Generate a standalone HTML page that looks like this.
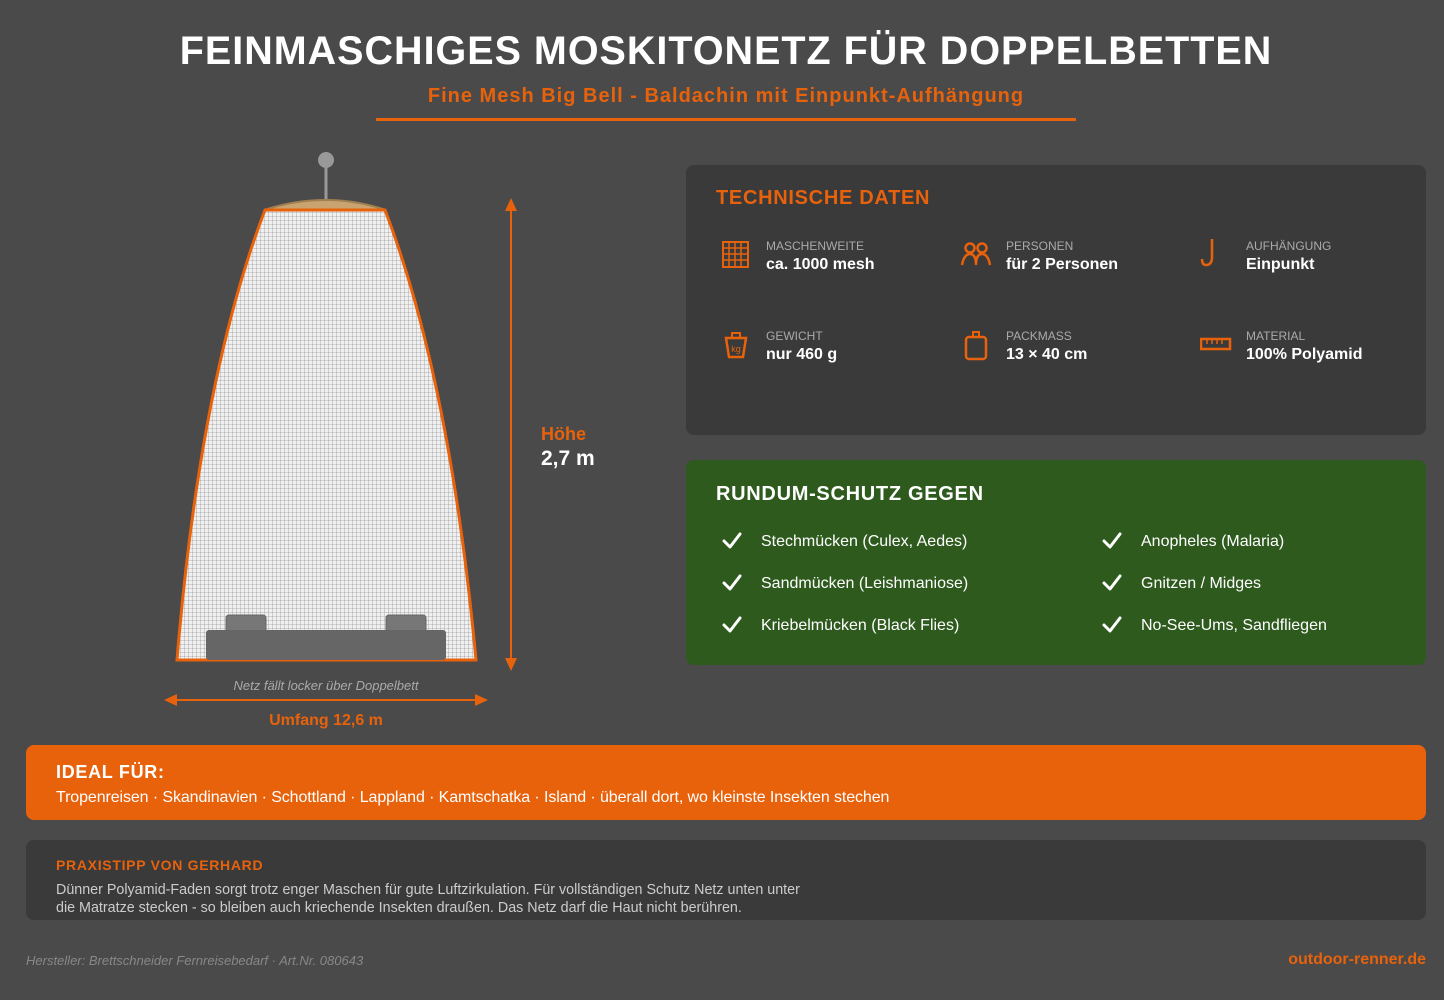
<!DOCTYPE html>
<html><head><meta charset="utf-8"><style>
*{margin:0;padding:0;box-sizing:border-box}
body{width:1444px;height:1000px;background:#4a4a4a;font-family:"Liberation Sans",sans-serif;position:relative;overflow:hidden;color:#fff}
.a{position:absolute}
.lab{font-size:12px;color:#aaa}
.val{font-size:16px;font-weight:bold;color:#fff;margin-top:3px}
.it{position:absolute;font-size:16px;color:#fff}
</style></head><body>
<div class="a" style="left:0;width:1452px;top:29px;text-align:center;font-size:39.5px;font-weight:bold;letter-spacing:1px">FEINMASCHIGES MOSKITONETZ FÜR DOPPELBETTEN</div>
<div class="a" style="left:0;width:1452px;top:85px;text-align:center;font-size:20px;font-weight:bold;color:#e8620c;letter-spacing:1px">Fine Mesh Big Bell - Baldachin mit Einpunkt-Aufhängung</div>
<div class="a" style="left:376px;top:118px;width:700px;height:3px;background:#e8620c"></div>

<svg class="a" style="left:0;top:0" width="680" height="740">
<defs><pattern id="m" width="4" height="4" patternUnits="userSpaceOnUse"><rect width="4" height="4" fill="#f0f0f0"/><path d="M0 0H4M0 0V4" stroke="#9a9a9a" stroke-width="0.8"/></pattern></defs>
<line x1="326" y1="160" x2="326" y2="200" stroke="#999" stroke-width="3"/>
<circle cx="326" cy="160" r="8" fill="#999"/>
<path d="M264 210 Q326 190 386 210 Z" fill="#c9a470" stroke="#a08050" stroke-width="2"/>
<path d="M265 210 L385 210 Q450 380 476 660 L177 660 Q200 380 265 210Z" fill="url(#m)" stroke="#e8620c" stroke-width="3"/>
<rect x="226" y="615" width="40" height="18" rx="3" fill="#777" stroke="#666"/>
<rect x="386" y="615" width="40" height="18" rx="3" fill="#777" stroke="#666"/>
<rect x="206" y="630" width="240" height="30" rx="3" fill="#666"/>
<line x1="511" y1="205" x2="511" y2="662" stroke="#e8620c" stroke-width="2"/>
<path d="M505 211L511 198L517 211Z M505 658L511 671L517 658Z" fill="#e8620c"/>
<line x1="172" y1="700" x2="480" y2="700" stroke="#e8620c" stroke-width="2"/>
<path d="M177 694L164 700L177 706Z M475 694L488 700L475 706Z" fill="#e8620c"/>
<text x="326" y="690" font-size="13" font-style="italic" fill="#aaa" text-anchor="middle" font-family="Liberation Sans">Netz fällt locker über Doppelbett</text>
<text x="326" y="725" font-size="16" font-weight="bold" fill="#e8620c" text-anchor="middle" font-family="Liberation Sans">Umfang 12,6 m</text>
<text x="541" y="440" font-size="18" font-weight="bold" fill="#e8620c" font-family="Liberation Sans">Höhe</text>
<text x="541" y="465" font-size="21" font-weight="bold" fill="#fff" font-family="Liberation Sans">2,7 m</text>
</svg>

<div class="a" style="left:686px;top:165px;width:740px;height:270px;background:#3a3a3a;border-radius:8px">
<div class="a" style="left:30px;top:22px;font-size:20px;font-weight:bold;color:#e8620c;letter-spacing:0.7px">TECHNISCHE DATEN</div>
<svg class="a" style="left:36px;top:76px" width="28" height="28"><rect x="1" y="1" width="25" height="25" fill="none" stroke="#e8620c" stroke-width="2"/><path d="M7 1V26M13 1V26M19 1V26M1 7H26M1 13H26M1 19H26" stroke="#e8620c" stroke-width="1.5"/></svg>
<div class="a" style="left:80px;top:74px"><div class="lab">MASCHENWEITE</div><div class="val">ca. 1000 mesh</div></div>
<svg class="a" style="left:274px;top:76px" width="32" height="26"><circle cx="10" cy="7" r="4.5" fill="none" stroke="#e8620c" stroke-width="2.5"/><circle cx="22" cy="7" r="4.5" fill="none" stroke="#e8620c" stroke-width="2.5"/><path d="M2 24Q4 13 10 13Q16 13 16 24M16 24Q16 13 22 13Q28 13 30 24" fill="none" stroke="#e8620c" stroke-width="2.5"/></svg>
<div class="a" style="left:320px;top:74px"><div class="lab">PERSONEN</div><div class="val">für 2 Personen</div></div>
<svg class="a" style="left:514px;top:72px" width="20" height="32"><path d="M12 2V20Q12 28 6 28Q2 28 2 22" fill="none" stroke="#e8620c" stroke-width="2.5"/></svg>
<div class="a" style="left:560px;top:74px"><div class="lab">AUFHÄNGUNG</div><div class="val">Einpunkt</div></div>
<svg class="a" style="left:38px;top:166px" width="24" height="28"><rect x="8" y="2" width="8" height="5" fill="none" stroke="#e8620c" stroke-width="2"/><path d="M2 7H22L19 26H5Z" fill="none" stroke="#e8620c" stroke-width="2.5"/><text x="12" y="21" font-size="9" fill="#e8620c" text-anchor="middle" font-family="Liberation Sans">kg</text></svg>
<div class="a" style="left:80px;top:164px"><div class="lab">GEWICHT</div><div class="val">nur 460 g</div></div>
<svg class="a" style="left:278px;top:166px" width="24" height="30"><rect x="9" y="1" width="6" height="5" fill="none" stroke="#e8620c" stroke-width="2"/><rect x="2" y="6" width="20" height="22" rx="3" fill="none" stroke="#e8620c" stroke-width="2.5"/></svg>
<div class="a" style="left:320px;top:164px"><div class="lab">PACKMASS</div><div class="val">13 × 40 cm</div></div>
<svg class="a" style="left:514px;top:172px" width="32" height="14"><rect x="1" y="2" width="29" height="10" fill="none" stroke="#e8620c" stroke-width="2.5"/><path d="M7 2V7M12 2V7M17 2V7M22 2V7" stroke="#e8620c" stroke-width="1.5"/></svg>
<div class="a" style="left:560px;top:164px"><div class="lab">MATERIAL</div><div class="val">100% Polyamid</div></div>
</div>

<div class="a" style="left:686px;top:460px;width:740px;height:205px;background:#2e5a1e;border-radius:8px">
<div class="a" style="left:30px;top:23px;font-size:20px;font-weight:bold;letter-spacing:0.7px">RUNDUM-SCHUTZ GEGEN</div>
<svg class="a" style="left:0;top:0" width="740" height="205"><g fill="none" stroke="#fff" stroke-width="3" stroke-linecap="round" stroke-linejoin="round">
<path d="M38 81L44 87L54 74M38 123L44 129L54 116M38 165L44 171L54 158M418 81L424 87L434 74M418 123L424 129L434 116M418 165L424 171L434 158"/></g></svg>
<div class="it" style="left:75px;top:73px">Stechmücken (Culex, Aedes)</div>
<div class="it" style="left:75px;top:115px">Sandmücken (Leishmaniose)</div>
<div class="it" style="left:75px;top:157px">Kriebelmücken (Black Flies)</div>
<div class="it" style="left:455px;top:73px">Anopheles (Malaria)</div>
<div class="it" style="left:455px;top:115px">Gnitzen / Midges</div>
<div class="it" style="left:455px;top:157px">No-See-Ums, Sandfliegen</div>
</div>

<div class="a" style="left:26px;top:745px;width:1400px;height:75px;background:#e8620c;border-radius:8px">
<div class="a" style="left:30px;top:17px;font-size:18px;font-weight:bold;letter-spacing:0.7px">IDEAL FÜR:</div>
<div class="a" style="left:30px;top:44px;font-size:16px;letter-spacing:-0.1px">Tropenreisen · Skandinavien · Schottland · Lappland · Kamtschatka · Island · überall dort, wo kleinste Insekten stechen</div>
</div>

<div class="a" style="left:26px;top:840px;width:1400px;height:80px;background:#3a3a3a;border-radius:8px">
<div class="a" style="left:30px;top:17px;font-size:14px;font-weight:bold;color:#e8620c;letter-spacing:0.7px">PRAXISTIPP VON GERHARD</div>
<div class="a" style="left:30px;top:41px;font-size:14.3px;color:#ccc;line-height:18px">Dünner Polyamid-Faden sorgt trotz enger Maschen für gute Luftzirkulation. Für vollständigen Schutz Netz unten unter<br>die Matratze stecken - so bleiben auch kriechende Insekten draußen. Das Netz darf die Haut nicht berühren.</div>
</div>

<div class="a" style="left:26px;top:953px;font-size:13px;font-style:italic;color:#888">Hersteller: Brettschneider Fernreisebedarf · Art.Nr. 080643</div>
<div class="a" style="right:18px;top:951px;font-size:16px;font-weight:bold;color:#e8620c">outdoor-renner.de</div>
</body></html>
